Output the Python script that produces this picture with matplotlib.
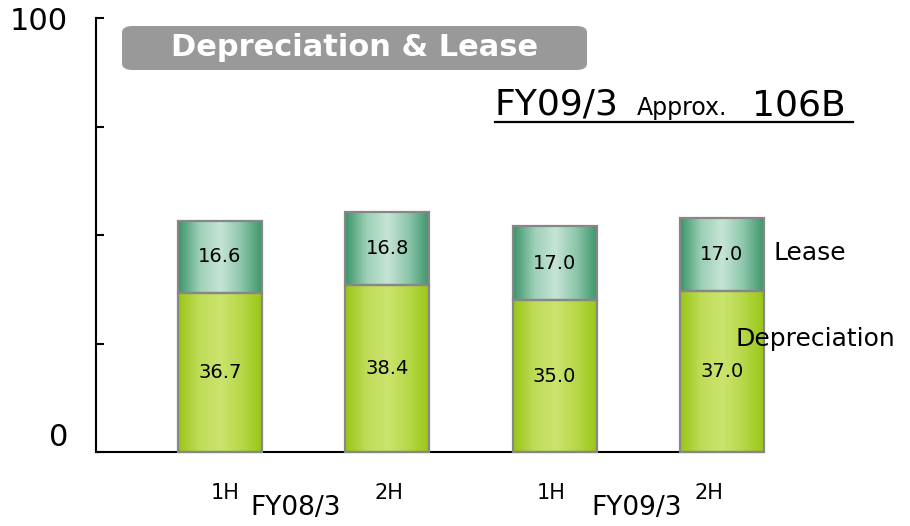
import numpy as np
import matplotlib
matplotlib.use("Agg")
import matplotlib.pyplot as plt
from matplotlib.patches import FancyBboxPatch
from matplotlib.lines import Line2D
from matplotlib.colors import LinearSegmentedColormap

# data
periods = ["FY08/3 1H", "FY08/3 2H", "FY09/3 1H", "FY09/3 2H"]
depreciation = [36.7, 38.4, 35.0, 37.0]
lease = [16.6, 16.8, 17.0, 17.0]
half_labels = ["1H", "2H", "1H", "2H"]
year_labels = ["FY08/3", "FY09/3"]

W, H = 910, 526
fig = plt.figure(figsize=(W / 100, H / 100), dpi=100)
ax = fig.add_axes([96 / W, (H - 452) / H, (764 - 96) / W, (452 - 18) / H])

x = np.arange(len(periods))
width = 0.502

dep_cmap = LinearSegmentedColormap.from_list(
    "dep", ["#98c614", "#bfdc58", "#cbe46e", "#b6d848", "#98c614"])
lease_cmap = LinearSegmentedColormap.from_list(
    "lease", ["#3a9468", "#9ccfb6", "#c6e4d6", "#8cc6aa", "#3a9468"])
grad = np.linspace(0, 1, 256).reshape(1, -1)

dep_bars = ax.bar(x, depreciation, width, color="none", edgecolor="#878787", linewidth=1.6,
                  zorder=3, clip_on=False)
lease_bars = ax.bar(x, lease, width, bottom=depreciation, color="none", edgecolor="#878787",
                    linewidth=1.6, zorder=3, clip_on=False)

for bars, cmap in [(dep_bars, dep_cmap), (lease_bars, lease_cmap)]:
    for p in bars:
        x0, y0 = p.get_x(), p.get_y()
        im = ax.imshow(grad, cmap=cmap, aspect="auto", zorder=2,
                       extent=[x0, x0 + p.get_width(), y0, y0 + p.get_height()])
        im.set_clip_path(p)

for i in range(len(x)):
    ax.text(x[i], depreciation[i] / 2, f"{depreciation[i]:.1f}", ha="center", va="center",
            fontsize=14, zorder=4)
    ax.text(x[i], depreciation[i] + lease[i] / 2, f"{lease[i]:.1f}", ha="center", va="center",
            fontsize=14, zorder=4)

ax.set_xlim(-0.741, x[-1] + width / 2)
ax.set_ylim(0, 100)
ax.set_yticks([0, 25, 50, 75, 100])
ax.set_yticklabels(["0", "", "", "", "100"])
ax.get_yticklabels()[0].set_va("bottom")
ax.tick_params(axis="y", direction="in", length=6, width=1.5, pad=20, labelsize=22)
ax.tick_params(axis="x", length=0, labelbottom=False)
for s in ["top", "right"]:
    ax.spines[s].set_visible(False)
ax.spines["left"].set_linewidth(1.5)
ax.spines["bottom"].set_linewidth(1.5)
ax.spines["bottom"].set_capstyle("butt")

# series names at the right
ax.text(3.31, 45.8, "Lease", fontsize=18, va="center", ha="left", clip_on=False)
ax.text(3.08, 26.0, "Depreciation", fontsize=18, va="center", ha="left", clip_on=False, zorder=5)

# period labels under the axis
half_off = [0.03, 0.01, -0.02, -0.08]
for i in range(len(x)):
    ax.text(x[i] + half_off[i], -9.5, half_labels[i], fontsize=15, ha="center", va="center",
            clip_on=False)
year_x = [0.45, 2.49]
for j, lab in enumerate(year_labels):
    ax.text(year_x[j], -13.0, lab, fontsize=19, ha="center", va="center", clip_on=False)

# title box
box = FancyBboxPatch((122 / W, 1 - 70 / H), (587 - 122) / W, 44 / H,
                     boxstyle="round,pad=0,rounding_size=0.012", transform=fig.transFigure,
                     facecolor="#999999", edgecolor="none")
fig.patches.append(box)
fig.text(355 / W, 1 - 48 / H, "Depreciation & Lease", color="white", fontsize=22,
         fontweight="bold", ha="center", va="center")

# total note
fig.text(495 / W, 1 - 115 / H, "FY09/3", fontsize=26, ha="left", va="baseline")
fig.text(637 / W, 1 - 115 / H, "Approx.", fontsize=17, ha="left", va="baseline")
fig.text(752 / W, 1 - 115 / H, "106B", fontsize=26, ha="left", va="baseline")
fig.lines.append(Line2D([495 / W, 853 / W], [1 - 122 / H, 1 - 122 / H], color="black",
                        linewidth=1.6, transform=fig.transFigure))

fig.savefig("out.png", dpi=100)
